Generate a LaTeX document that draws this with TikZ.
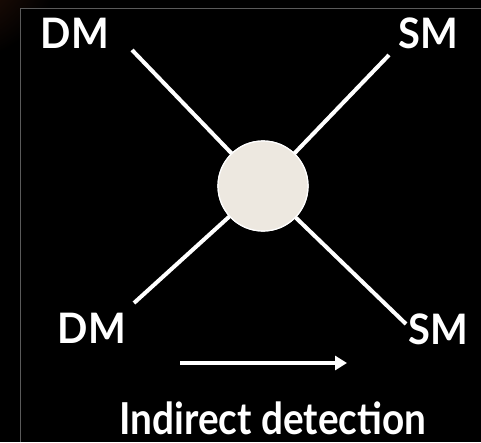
\documentclass[tikz,border=0pt]{standalone}
\usepackage{fontspec}
\setmainfont{Lato}
\newfontfamily\lblfont[FakeStretch=0.95]{Lato}
\newfontfamily\ttlfont[FakeStretch=0.88]{Lato}
\usetikzlibrary{arrows.meta}
\definecolor{cream}{HTML}{EDE8E0}
\definecolor{framegray}{HTML}{5A5A5A}
\definecolor{rust}{HTML}{33160A}
\tikzset{
  lbl/.style={text=white, font=\lblfont\bfseries\fontsize{42}{42}\selectfont, inner sep=0pt, anchor=base},
  ttl/.style={text=white, font=\ttlfont\bfseries\fontsize{44}{44}\selectfont, inner sep=0pt, anchor=base},
  leg/.style={draw=white, line width=4pt},
  blob/.style={circle, fill=cream, draw=white, line width=1.2pt, minimum size=90pt, inner sep=0pt},
}
\begin{document}
\begin{tikzpicture}[x=1pt,y=-1pt]
\useasboundingbox (0,0) rectangle (481,442);
\fill[black] (0,0) rectangle (481,442);
\begin{scope}
  \clip (0,0) rectangle (481,8) (0,0) rectangle (20,442);
  \shade[inner color=rust, outer color=black] (-40,-40) circle (100);
\end{scope}
\draw[framegray, line width=0.8pt] (20,442) -- (20,8) -- (481,8);
% vertex
\node[blob] (v) at (263,186) {};
\coordinate (tl) at (132,50);
\coordinate (tr) at (389,55);
\coordinate (bl) at (134,303);
\coordinate (br) at (406,324);
\draw[leg] (tl) -- (v.center);
\draw[leg] (tr) -- (v.center);
\draw[leg] (bl) -- (v.center);
\draw[leg] (br) -- (v.center);
\node[blob] (v2) at (v) {};
% labels
\node[lbl] (dm1) at (75,48) {DM};
\node[lbl] (sm1) at (428,48) {SM};
\node[lbl] (dm2) at (92,343) {DM};
\node[lbl] (sm2) at (438,344) {SM};
% arrow
\coordinate (a1) at (180,363);
\coordinate (a2) at (347,363);
\draw[white, line width=4pt, -{Triangle[length=12pt,width=14pt]}] (a1) -- (a2);
\node[ttl] (title) at (273,434) {Indirect detection};
\end{tikzpicture}
\end{document}
